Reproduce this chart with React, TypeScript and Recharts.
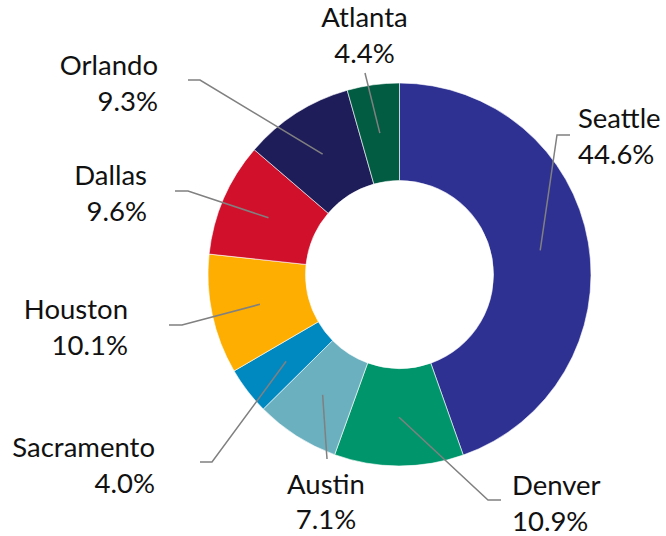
import React from 'react';
import { PieChart, Pie, Cell } from 'recharts';

const cities = ['Seattle', 'Denver', 'Austin', 'Sacramento', 'Houston', 'Dallas', 'Orlando', 'Atlanta'];
const shares = [44.6, 10.9, 7.1, 4.0, 10.1, 9.6, 9.3, 4.4];
const colors = ['#2E3192', '#00956B', '#6BB0BF', '#0088C0', '#FDAE00', '#D1112C', '#1E1D59', '#015C42'];

const data = cities.map((name, i) => ({ name, value: shares[i] }));

// label layout: elbow offset from center, horizontal tail end (or null), text x, first baseline, anchor
const labelLayout = [
  { ex: 157.5, ey: -139.5, hx: 170.5, tx: 178.5, ty: -146.5, anchor: 'start' },
  { ex: 88.5, ey: 225.5, hx: 101.5, tx: 112.5, ty: 220.5, anchor: 'start' },
  { ex: -72.5, ey: 184.5, hx: null, tx: -73.5, ty: 219, anchor: 'middle' },
  { ex: -187.5, ey: 187.5, hx: -199.5, tx: -244.5, ty: 182.5, anchor: 'end' },
  { ex: -217.5, ey: 50.5, hx: -230.5, tx: -271.5, ty: 44.5, anchor: 'end' },
  { ex: -211.5, ey: -83.5, hx: -224.5, tx: -252.5, ty: -89.5, anchor: 'end' },
  { ex: -199.5, ey: -194.5, hx: -211.5, tx: -241.5, ty: -199.5, anchor: 'end' },
  { ex: -34.5, ey: -201.5, hx: null, tx: -35, ty: -247.5, anchor: 'middle' },
];

const RAD = Math.PI / 180;
const FONT = 'Lato, "Open Sans", sans-serif';

const renderLabel = (props: any) => {
  const { cx, cy, midAngle, innerRadius, outerRadius, index } = props;
  const L = labelLayout[index];
  const r = (innerRadius + outerRadius) / 2;
  const sx = cx + r * Math.cos(-midAngle * RAD);
  const sy = cy + r * Math.sin(-midAngle * RAD);
  const ex = cx + L.ex;
  const ey = cy + L.ey;
  const pts = L.hx === null ? `${sx},${sy} ${ex},${ey}` : `${sx},${sy} ${ex},${ey} ${cx + L.hx},${ey}`;
  return (
    <g key={`lbl-${index}`}>
      <polyline points={pts} fill="none" stroke="#808080" strokeWidth={1.5} />
      <text x={cx + L.tx} y={cy + L.ty} textAnchor={L.anchor} fill="#111111" fontFamily={FONT} fontSize={27.5}>
        <tspan x={cx + L.tx}>{cities[index]}</tspan>
        <tspan x={cx + L.tx} dy={35.5}>{`${shares[index].toFixed(1)}%`}</tspan>
      </text>
    </g>
  );
};

export default function App() {
  return (
    <div style={{ position: 'absolute', left: 0, top: 0, width: 666, height: 536, background: '#fff' }}>
      <PieChart width={666} height={536} margin={{ top: 0, right: 0, bottom: 0, left: 0 }}>
        <Pie
          data={data}
          dataKey="value"
          nameKey="name"
          cx={399.5}
          cy={274.5}
          innerRadius={94}
          outerRadius={191.5}
          startAngle={90}
          endAngle={-270}
          stroke="#ffffff"
          strokeWidth={0.6}
          isAnimationActive={false}
          labelLine={false}
          label={renderLabel}
        >
          {data.map((d, i) => (
            <Cell key={d.name} fill={colors[i]} />
          ))}
        </Pie>
      </PieChart>
    </div>
  );
}
